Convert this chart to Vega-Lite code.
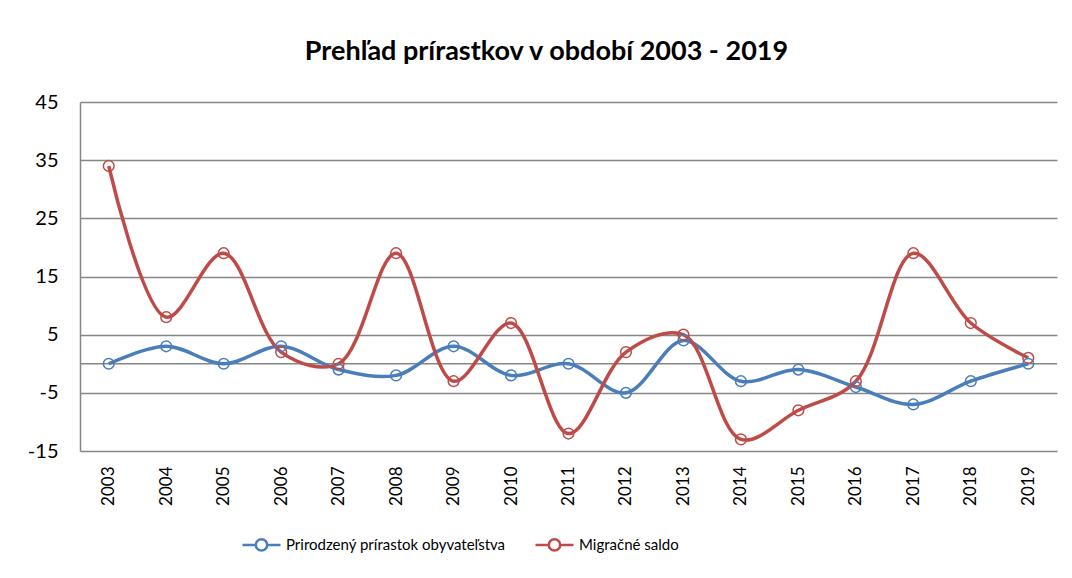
{
  "$schema": "https://vega.github.io/schema/vega-lite/v6.json",
  "width": 977,
  "height": 349,
  "autosize": {"type": "none"},
  "padding": {"left": 80, "top": 102, "right": 15, "bottom": 127},
  "background": "white",
  "title": {
    "text": "Prehľad prírastkov v období 2003 - 2019",
    "font": "Lato",
    "fontSize": 27,
    "fontWeight": "bold",
    "color": "#000000",
    "anchor": "middle",
    "dx": -22,
    "offset": 26
  },
  "data": {
    "values": [
      {"rok": "2003", "seria": "Prirodzený prírastok obyvateľstva", "hodnota": 0},
      {"rok": "2004", "seria": "Prirodzený prírastok obyvateľstva", "hodnota": 3},
      {"rok": "2005", "seria": "Prirodzený prírastok obyvateľstva", "hodnota": 0},
      {"rok": "2006", "seria": "Prirodzený prírastok obyvateľstva", "hodnota": 3},
      {"rok": "2007", "seria": "Prirodzený prírastok obyvateľstva", "hodnota": -1},
      {"rok": "2008", "seria": "Prirodzený prírastok obyvateľstva", "hodnota": -2},
      {"rok": "2009", "seria": "Prirodzený prírastok obyvateľstva", "hodnota": 3},
      {"rok": "2010", "seria": "Prirodzený prírastok obyvateľstva", "hodnota": -2},
      {"rok": "2011", "seria": "Prirodzený prírastok obyvateľstva", "hodnota": 0},
      {"rok": "2012", "seria": "Prirodzený prírastok obyvateľstva", "hodnota": -5},
      {"rok": "2013", "seria": "Prirodzený prírastok obyvateľstva", "hodnota": 4},
      {"rok": "2014", "seria": "Prirodzený prírastok obyvateľstva", "hodnota": -3},
      {"rok": "2015", "seria": "Prirodzený prírastok obyvateľstva", "hodnota": -1},
      {"rok": "2016", "seria": "Prirodzený prírastok obyvateľstva", "hodnota": -4},
      {"rok": "2017", "seria": "Prirodzený prírastok obyvateľstva", "hodnota": -7},
      {"rok": "2018", "seria": "Prirodzený prírastok obyvateľstva", "hodnota": -3},
      {"rok": "2019", "seria": "Prirodzený prírastok obyvateľstva", "hodnota": 0},
      {"rok": "2003", "seria": "Migračné saldo", "hodnota": 34},
      {"rok": "2004", "seria": "Migračné saldo", "hodnota": 8},
      {"rok": "2005", "seria": "Migračné saldo", "hodnota": 19},
      {"rok": "2006", "seria": "Migračné saldo", "hodnota": 2},
      {"rok": "2007", "seria": "Migračné saldo", "hodnota": 0},
      {"rok": "2008", "seria": "Migračné saldo", "hodnota": 19},
      {"rok": "2009", "seria": "Migračné saldo", "hodnota": -3},
      {"rok": "2010", "seria": "Migračné saldo", "hodnota": 7},
      {"rok": "2011", "seria": "Migračné saldo", "hodnota": -12},
      {"rok": "2012", "seria": "Migračné saldo", "hodnota": 2},
      {"rok": "2013", "seria": "Migračné saldo", "hodnota": 5},
      {"rok": "2014", "seria": "Migračné saldo", "hodnota": -13},
      {"rok": "2015", "seria": "Migračné saldo", "hodnota": -8},
      {"rok": "2016", "seria": "Migračné saldo", "hodnota": -3},
      {"rok": "2017", "seria": "Migračné saldo", "hodnota": 19},
      {"rok": "2018", "seria": "Migračné saldo", "hodnota": 7},
      {"rok": "2019", "seria": "Migračné saldo", "hodnota": 1}
    ]
  },
  "layer": [
    {
      "data": {"values": [{"nula": 0}]},
      "mark": {"type": "rule", "color": "#868686", "strokeWidth": 1.5},
      "encoding": {"y": {"field": "nula", "type": "quantitative"}}
    },
    {
      "mark": {"type": "line", "interpolate": "catmull-rom", "strokeWidth": 3.5},
      "encoding": {
        "x": {
          "field": "rok",
          "type": "ordinal",
          "scale": {"type": "point", "padding": 0.5},
          "axis": {
            "title": null,
            "domain": false,
            "ticks": false,
            "grid": false,
            "labelAngle": 270,
            "labelAlign": "right",
            "labelBaseline": "middle",
            "labelPadding": 15,
            "labelFont": "Lato",
            "labelFontSize": 17,
            "labelColor": "#000000"
          }
        },
        "y": {"field": "hodnota", "type": "quantitative"},
        "color": {"field": "seria", "type": "nominal"}
      }
    },
    {
      "mark": {"type": "point", "shape": "circle", "filled": false, "size": 115, "strokeWidth": 1.5, "opacity": 1},
      "encoding": {
        "x": {"field": "rok", "type": "ordinal"},
        "y": {"field": "hodnota", "type": "quantitative"},
        "color": {"field": "seria", "type": "nominal"}
      }
    }
  ],
  "encoding": {
    "y": {
      "type": "quantitative",
      "scale": {"domain": [-15, 45], "nice": false, "zero": false},
      "axis": {
        "title": null,
        "values": [-15, -5, 5, 15, 25, 35, 45],
        "labelExpr": "'' + datum.value",
        "domain": true,
        "domainColor": "#868686",
        "domainWidth": 1.5,
        "ticks": false,
        "grid": true,
        "gridColor": "#868686",
        "gridWidth": 1.5,
        "labelPadding": 22,
        "labelFont": "Lato",
        "labelFontSize": 20,
        "labelColor": "#000000"
      }
    },
    "color": {
      "type": "nominal",
      "scale": {
        "domain": ["Prirodzený prírastok obyvateľstva", "Migračné saldo"],
        "range": ["#4A7EBB", "#BE4B48"]
      },
      "legend": {
        "title": null,
        "orient": "none",
        "direction": "horizontal",
        "legendX": 161,
        "legendY": 422,
        "symbolType": "M-1,0L-0.3,0M0.3,0L1,0M-0.3,0A0.3,0.3,0,1,1,0.3,0A0.3,0.3,0,1,1,-0.3,0",
        "symbolSize": 1444,
        "symbolStrokeWidth": 2.5,
        "symbolFillColor": "white",
        "labelFont": "Lato",
        "labelFontSize": 15,
        "labelLimit": 500,
        "labelColor": "#000000",
        "labelOffset": 4,
        "columnPadding": 24
      }
    }
  },
  "config": {"view": {"stroke": null}}
}
